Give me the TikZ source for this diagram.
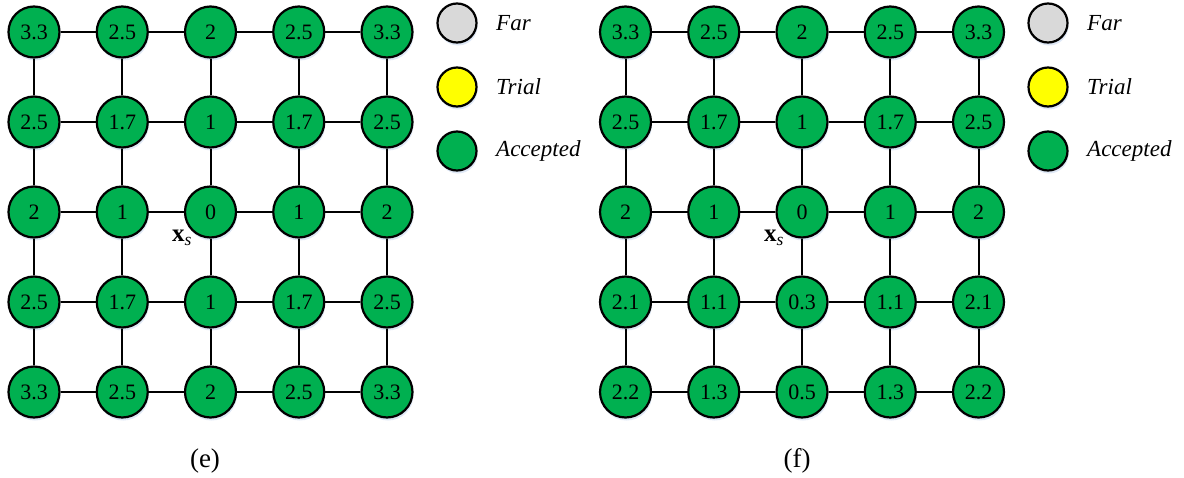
\documentclass[tikz,border=0pt]{standalone}
\usepackage{fontspec}
\setmainfont{Liberation Serif}
\usetikzlibrary{shadows}
\definecolor{accgreen}{HTML}{00B050}
\definecolor{fargray}{HTML}{D9D9D9}
\definecolor{trialyellow}{HTML}{FFFF00}
\definecolor{glow}{HTML}{C9D9F0}
\tikzset{
  gridnode/.style={circle, draw=black, line width=2.2pt, fill=accgreen, minimum size=51pt, inner sep=0pt,
    font=\fontsize{22}{24}\selectfont,
    drop shadow={shadow xshift=1pt, shadow yshift=-3pt, fill=glow, opacity=0.6}},
  legnode/.style={circle, draw=black, line width=2.2pt, minimum size=39pt, inner sep=0pt,
    drop shadow={shadow xshift=1pt, shadow yshift=-3pt, fill=glow, opacity=0.6}},
  legtext/.style={anchor=west, inner sep=0pt, font=\fontsize{23}{25}\selectfont\itshape},
  edge/.style={draw=black, line width=2pt},
  caption/.style={font=\fontsize{27}{29}\selectfont},
  srclabel/.style={font=\fontsize{25}{27}\selectfont, inner sep=0pt}
}
\begin{document}
\begin{tikzpicture}[x=1pt, y=-1pt]
\useasboundingbox (0,0) rectangle (1184,477);
% panel (e)
\foreach \r/\vals in {1/{3.3,2.5,2,2.5,3.3},2/{2.5,1.7,1,1.7,2.5},3/{2,1,0,1,2},4/{2.5,1.7,1,1.7,2.5},5/{3.3,2.5,2,2.5,3.3}}{
  \foreach \v [count=\c] in \vals {
    \node[gridnode] (e-\r-\c) at ({34+88.25*(\c-1)},{32+90*(\r-1)}) {\v};
  }
}
% panel (f)
\foreach \r/\vals in {1/{3.3,2.5,2,2.5,3.3},2/{2.5,1.7,1,1.7,2.5},3/{2,1,0,1,2},4/{2.1,1.1,0.3,1.1,2.1},5/{2.2,1.3,0.5,1.3,2.2}}{
  \foreach \v [count=\c] in \vals {
    \node[gridnode] (f-\r-\c) at ({625.5+88.25*(\c-1)},{32+90*(\r-1)}) {\v};
  }
}
% edges
\foreach \p in {e,f}{
  \foreach \r in {1,...,5}{
    \foreach \c [evaluate=\c as \n using int(\c+1)] in {1,...,4}{
      \draw[edge] (\p-\r-\c) -- (\p-\r-\n);
      \draw[edge] (\p-\c-\r) -- (\p-\n-\r);
    }
  }
}
% source labels
\node[srclabel] (xs-e) at (182,238) {\textbf{x}\textsubscript{\textit{s}}};
\node[srclabel] (xs-f) at (774,238) {\textbf{x}\textsubscript{\textit{s}}};
% legends
\foreach \p/\x in {e/457,f/1048}{
  \node[legnode, fill=fargray] (\p-far) at (\x,23) {};
  \node[legnode, fill=trialyellow] (\p-trial) at (\x,87) {};
  \node[legnode, fill=accgreen] (\p-acc) at (\x,151) {};
  \node[legtext] (\p-fart) at (\x+39,23) {Far};
  \node[legtext] (\p-trialt) at (\x+39,87) {Trial};
  \node[legtext] (\p-acct) at (\x+39,151) {Accepted};
}
% captions
\node[caption] (cap-e) at (205,461) {(e)};
\node[caption] (cap-f) at (797,461) {(f)};
\end{tikzpicture}
\end{document}
